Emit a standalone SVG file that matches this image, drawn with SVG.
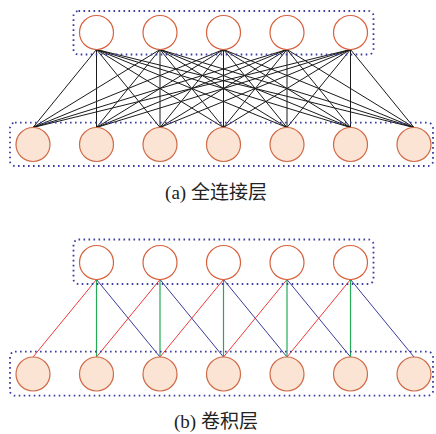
<svg xmlns="http://www.w3.org/2000/svg" width="436" height="434" viewBox="0 0 436 434">
<style>
.box{fill:none;stroke:#3b3ba0;stroke-width:1.8;stroke-dasharray:1.6 3.4}
.top{fill:#ffffff;stroke:#d8603c;stroke-width:1.2}
.bot{fill:#fbe4d4;stroke:#d06a46;stroke-width:1.2}
.k{stroke:#1a1a1a;stroke-width:1}
.r{stroke:#ee3a3a;stroke-width:1}
.g{stroke:#22aa55;stroke-width:1.2}
.b{stroke:#3a3a9a;stroke-width:1}
.cap{font-family:"Liberation Serif","Noto Sans CJK SC",serif;font-size:19px;fill:#222;text-anchor:middle}
</style>
<g id="connectors-a">
<g class="k">
<line x1="96.5" y1="49.5" x2="33" y2="127.5"/><line x1="96.5" y1="49.5" x2="96.5" y2="127.5"/><line x1="96.5" y1="49.5" x2="160" y2="127.5"/><line x1="96.5" y1="49.5" x2="223.5" y2="127.5"/><line x1="96.5" y1="49.5" x2="287" y2="127.5"/><line x1="96.5" y1="49.5" x2="350.5" y2="127.5"/><line x1="96.5" y1="49.5" x2="414" y2="127.5"/>
<line x1="160" y1="49.5" x2="33" y2="127.5"/><line x1="160" y1="49.5" x2="96.5" y2="127.5"/><line x1="160" y1="49.5" x2="160" y2="127.5"/><line x1="160" y1="49.5" x2="223.5" y2="127.5"/><line x1="160" y1="49.5" x2="287" y2="127.5"/><line x1="160" y1="49.5" x2="350.5" y2="127.5"/><line x1="160" y1="49.5" x2="414" y2="127.5"/>
<line x1="223.5" y1="49.5" x2="33" y2="127.5"/><line x1="223.5" y1="49.5" x2="96.5" y2="127.5"/><line x1="223.5" y1="49.5" x2="160" y2="127.5"/><line x1="223.5" y1="49.5" x2="223.5" y2="127.5"/><line x1="223.5" y1="49.5" x2="287" y2="127.5"/><line x1="223.5" y1="49.5" x2="350.5" y2="127.5"/><line x1="223.5" y1="49.5" x2="414" y2="127.5"/>
<line x1="287" y1="49.5" x2="33" y2="127.5"/><line x1="287" y1="49.5" x2="96.5" y2="127.5"/><line x1="287" y1="49.5" x2="160" y2="127.5"/><line x1="287" y1="49.5" x2="223.5" y2="127.5"/><line x1="287" y1="49.5" x2="287" y2="127.5"/><line x1="287" y1="49.5" x2="350.5" y2="127.5"/><line x1="287" y1="49.5" x2="414" y2="127.5"/>
<line x1="350.5" y1="49.5" x2="33" y2="127.5"/><line x1="350.5" y1="49.5" x2="96.5" y2="127.5"/><line x1="350.5" y1="49.5" x2="160" y2="127.5"/><line x1="350.5" y1="49.5" x2="223.5" y2="127.5"/><line x1="350.5" y1="49.5" x2="287" y2="127.5"/><line x1="350.5" y1="49.5" x2="350.5" y2="127.5"/><line x1="350.5" y1="49.5" x2="414" y2="127.5"/>
</g>
</g>
<g id="connectors-b">
<line class="r" x1="96.5" y1="279.5" x2="33" y2="357"/><line class="g" x1="96.5" y1="279.5" x2="96.5" y2="357"/><line class="b" x1="96.5" y1="279.5" x2="160" y2="357"/>
<line class="r" x1="160" y1="279.5" x2="96.5" y2="357"/><line class="g" x1="160" y1="279.5" x2="160" y2="357"/><line class="b" x1="160" y1="279.5" x2="223.5" y2="357"/>
<line class="r" x1="223.5" y1="279.5" x2="160" y2="357"/><line class="g" x1="223.5" y1="279.5" x2="223.5" y2="357"/><line class="b" x1="223.5" y1="279.5" x2="287" y2="357"/>
<line class="r" x1="287" y1="279.5" x2="223.5" y2="357"/><line class="g" x1="287" y1="279.5" x2="287" y2="357"/><line class="b" x1="287" y1="279.5" x2="350.5" y2="357"/>
<line class="r" x1="350.5" y1="279.5" x2="287" y2="357"/><line class="g" x1="350.5" y1="279.5" x2="350.5" y2="357"/><line class="b" x1="350.5" y1="279.5" x2="414" y2="357"/>
</g>
<g id="layer-a-top">
<rect class="box" x="73.5" y="11" width="300" height="43.5" rx="5"/>
<g id="a-t1"><circle class="top" cx="96.5" cy="32.5" r="17"/></g>
<g id="a-t2"><circle class="top" cx="160" cy="32.5" r="17"/></g>
<g id="a-t3"><circle class="top" cx="223.5" cy="32.5" r="17"/></g>
<g id="a-t4"><circle class="top" cx="287" cy="32.5" r="17"/></g>
<g id="a-t5"><circle class="top" cx="350.5" cy="32.5" r="17"/></g>
</g>
<g id="layer-a-bottom">
<rect class="box" x="10" y="122.7" width="423" height="43.3" rx="5"/>
<g id="a-b1"><circle class="bot" cx="33" cy="144.5" r="17"/></g>
<g id="a-b2"><circle class="bot" cx="96.5" cy="144.5" r="17"/></g>
<g id="a-b3"><circle class="bot" cx="160" cy="144.5" r="17"/></g>
<g id="a-b4"><circle class="bot" cx="223.5" cy="144.5" r="17"/></g>
<g id="a-b5"><circle class="bot" cx="287" cy="144.5" r="17"/></g>
<g id="a-b6"><circle class="bot" cx="350.5" cy="144.5" r="17"/></g>
<g id="a-b7"><circle class="bot" cx="414" cy="144.5" r="17"/></g>
</g>
<g id="caption-a"><text class="cap" x="216" y="199">(a) 全连接层</text></g>
<g id="layer-b-top">
<rect class="box" x="73.5" y="239.5" width="300" height="44.5" rx="5"/>
<g id="b-t1"><circle class="top" cx="96.5" cy="262.5" r="17"/></g>
<g id="b-t2"><circle class="top" cx="160" cy="262.5" r="17"/></g>
<g id="b-t3"><circle class="top" cx="223.5" cy="262.5" r="17"/></g>
<g id="b-t4"><circle class="top" cx="287" cy="262.5" r="17"/></g>
<g id="b-t5"><circle class="top" cx="350.5" cy="262.5" r="17"/></g>
</g>
<g id="layer-b-bottom">
<rect class="box" x="10" y="351.7" width="423" height="44" rx="5"/>
<g id="b-b1"><circle class="bot" cx="33" cy="374" r="17"/></g>
<g id="b-b2"><circle class="bot" cx="96.5" cy="374" r="17"/></g>
<g id="b-b3"><circle class="bot" cx="160" cy="374" r="17"/></g>
<g id="b-b4"><circle class="bot" cx="223.5" cy="374" r="17"/></g>
<g id="b-b5"><circle class="bot" cx="287" cy="374" r="17"/></g>
<g id="b-b6"><circle class="bot" cx="350.5" cy="374" r="17"/></g>
<g id="b-b7"><circle class="bot" cx="414" cy="374" r="17"/></g>
</g>
<g id="caption-b"><text class="cap" x="216" y="428">(b) 卷积层</text></g>
</svg>
